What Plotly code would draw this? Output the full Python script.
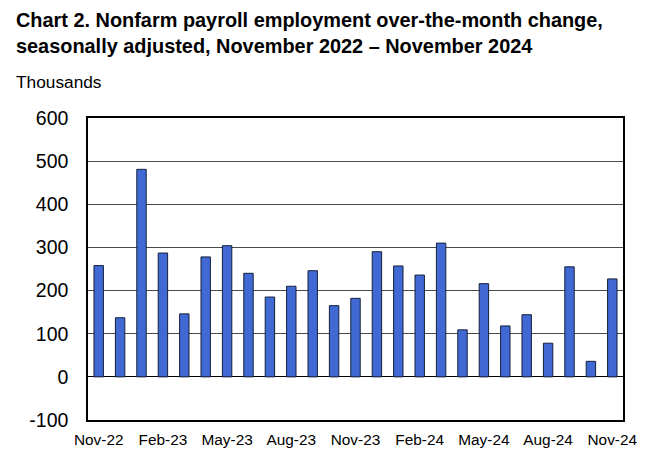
import plotly.graph_objects as go

# Over-the-month change in nonfarm payrolls, thousands
MONTHS = [
    "Nov-22", "Dec-22", "Jan-23", "Feb-23", "Mar-23", "Apr-23", "May-23",
    "Jun-23", "Jul-23", "Aug-23", "Sep-23", "Oct-23", "Nov-23", "Dec-23",
    "Jan-24", "Feb-24", "Mar-24", "Apr-24", "May-24", "Jun-24", "Jul-24",
    "Aug-24", "Sep-24", "Oct-24", "Nov-24",
]
CHANGE = [
    258, 137, 481, 287, 146, 278, 304, 240, 185, 210, 246, 165, 182,
    290, 257, 236, 310, 109, 216, 118, 144, 78, 255, 36, 227,
]
TICK_LABELS = ["Nov-22", "Feb-23", "May-23", "Aug-23", "Nov-23",
               "Feb-24", "May-24", "Aug-24", "Nov-24"]
Y_TICKS = [-100, 0, 100, 200, 300, 400, 500, 600]

FONT = "Liberation Sans, Arial, sans-serif"
W, H = 664, 466
M_L, M_R, M_T, M_B = 88, 41, 118, 46
PLOT_W = W - M_L - M_R
PLOT_H = H - M_T - M_B


def px_to_paper_x(px):
    return (px - M_L) / PLOT_W


def px_to_paper_y(py):
    return (H - M_B - py) / PLOT_H


fig = go.Figure(
    go.Bar(
        x=MONTHS,
        y=CHANGE,
        width=0.44,
        marker_color="#4169d4",
        marker_line_color="#14203a",
        marker_line_width=1,
        hovertemplate="%{x}: %{y}<extra></extra>",
    )
)

fig.update_layout(
    width=W,
    height=H,
    paper_bgcolor="white",
    plot_bgcolor="white",
    showlegend=False,
    margin={"l": M_L, "r": M_R, "t": M_T, "b": M_B},
    font={"family": FONT, "color": "black"},
    annotations=[
        {
            "text": "<b>Chart 2. Nonfarm payroll employment over-the-month change,<br>"
                    "seasonally adjusted, November 2022 \u2013 November 2024</b>",
            "xref": "paper", "yref": "paper",
            "x": px_to_paper_x(14), "xanchor": "left",
            "y": px_to_paper_y(7), "yanchor": "top",
            "align": "left",
            "showarrow": False,
            "font": {"size": 19.9, "family": FONT, "color": "black"},
        },
        {
            "text": "Thousands",
            "xref": "paper", "yref": "paper",
            "x": px_to_paper_x(14), "xanchor": "left",
            "y": px_to_paper_y(70), "yanchor": "top",
            "showarrow": False,
            "font": {"size": 17.3, "family": FONT, "color": "black"},
        },
    ],
)

fig.update_xaxes(
    type="category",
    range=[-0.5, len(MONTHS) - 0.5],
    tickmode="array",
    tickvals=TICK_LABELS,
    ticktext=TICK_LABELS,
    tickangle=0,
    tickfont={"size": 15.4},
    ticks="",
    ticklabelstandoff=5,
    showline=True, linecolor="black", linewidth=1.5, mirror=True,
    showgrid=False,
)
fig.update_yaxes(
    range=[-100, 600],
    tickmode="array",
    tickvals=Y_TICKS,
    ticktext=[str(v) for v in Y_TICKS],
    tickfont={"size": 19.5},
    ticks="",
    ticklabelstandoff=14,
    showline=True, linecolor="black", linewidth=1.5, mirror=True,
    showgrid=True, gridcolor="#4a4a4a", gridwidth=1.2,
    zeroline=True, zerolinecolor="black", zerolinewidth=1.2,
)

# the browser's default 8px body margin would push the figure off the window
fig.write_html(
    "out.html",
    config={"displayModeBar": False},
    post_script="document.body.style.margin='0';",
)
